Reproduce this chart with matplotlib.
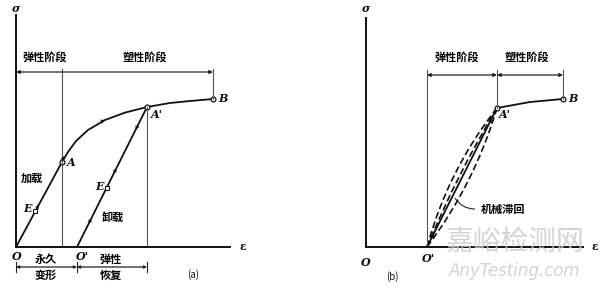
import matplotlib
matplotlib.use("Agg")
import matplotlib.pyplot as plt
from matplotlib.path import Path
from matplotlib.patches import PathPatch

plt.rcParams['font.family'] = ['Noto Sans CJK SC', 'DejaVu Sans']

# ---- data (strain / stress in arbitrary schematic units) ----
loading_eps = [0.0, 2.3, 2.6, 3.0, 3.6, 4.45, 5.45, 6.55, 7.7, 8.7, 9.85]
loading_sig = [0.0, 4.25, 4.75, 5.3, 5.85, 6.35, 6.72, 7.0, 7.2, 7.3, 7.4]
point_A = (2.3, 4.25)
point_A1 = (6.55, 7.0)
point_B = (9.85, 7.4)
point_O1 = (3.05, 0.0)
unload_eps = [6.55, 3.05]
unload_sig = [7.0, 0.0]

right_eps = [3.05, 6.55, 8.2, 9.85]
right_sig = [0.0, 6.95, 7.25, 7.4]
loop_ctrl_eps = [4.09, 4.53, 5.43]
loop_ctrl_sig = [3.84, 3.61, 3.16]

stage_labels = ['弹性阶段', '塑性阶段']
bottom_labels = [('永久', '变形'), ('弹性', '恢复')]

fig = plt.figure(figsize=(6.0, 2.92), dpi=100)
ax1 = fig.add_axes([16/600, 45/292, 214/600, 232/292])
ax2 = fig.add_axes([366/600, 45/292, 217/600, 229/292])
ax1.set_xlim(0, 10.7); ax1.set_ylim(0, 11.6)
ax2.set_xlim(0, 10.85); ax2.set_ylim(0, 11.45)

for ax in (ax1, ax2):
    for s in ('top', 'right'):
        ax.spines[s].set_visible(False)
    for s in ('left', 'bottom'):
        ax.spines[s].set_linewidth(1.4)
        ax.spines[s].set_color('#111111')
    ax.set_xticks([]); ax.set_yticks([])
    ax.patch.set_alpha(0)

cjk = dict(fontsize=8, fontweight='bold', color='#000000', ha='center', va='center')
lat = dict(fontsize=8, fontweight='bold', style='italic', family='DejaVu Serif',
           color='#111111', va='center', ha='center')
thin = dict(color='#555555', lw=0.8)


def arrowhead(ax, p, q, ms=7):
    ax.annotate('', xy=q, xytext=p,
                arrowprops=dict(arrowstyle='-|>', lw=0.1, color='#111111',
                                mutation_scale=ms, shrinkA=0, shrinkB=0),
                annotation_clip=False)


def bracket(ax, x0, x1, y, ms=5):
    ax.annotate('', xy=(x1, y), xytext=(x0, y),
                arrowprops=dict(arrowstyle='<|-|>', lw=0.9, color='#222222',
                                mutation_scale=ms, shrinkA=0, shrinkB=0),
                annotation_clip=False)

# ---------------- panel (a) ----------------
ax1.plot(loading_eps, loading_sig, color='#111111', lw=1.3, solid_capstyle='round',
         solid_joinstyle='round')
ax1.plot(unload_eps, unload_sig, color='#111111', lw=1.3)
ax1.plot(*point_A, 'o', ms=3.5, mfc='white', mec='#111111', mew=0.9)
ax1.plot(*point_A1, 'o', ms=3.5, mfc='white', mec='#111111', mew=0.9)
ax1.plot(*point_B, 'o', ms=3.5, mfc='white', mec='#111111', mew=0.9)

# guide lines
ax1.plot([point_A[0], point_A[0]], [0, 8.9], **thin)
ax1.plot([point_A1[0], point_A1[0]], [0, point_A1[1]], **thin)
ax1.plot([point_B[0], point_B[0]], [point_B[1], 8.9], **thin)
bracket(ax1, 0, point_B[0], 8.75)
ax1.text(1.45, 9.5, stage_labels[0], **cjk)
ax1.text(6.45, 9.5, stage_labels[1], **cjk)

# bottom bracket
for xe in (0, point_O1[0], point_A1[0]):
    ax1.plot([xe, xe], [-0.75, -1.25], color='#222222', lw=0.8, clip_on=False)
bracket(ax1, 0, point_O1[0], -1.0, ms=4)
bracket(ax1, point_O1[0], point_A1[0], -1.0, ms=4)
ax1.text(1.5, -0.6, bottom_labels[0][0], **cjk)
ax1.text(1.5, -1.42, bottom_labels[0][1], **cjk)
ax1.text(4.75, -0.6, bottom_labels[1][0], **cjk)
ax1.text(4.75, -1.42, bottom_labels[1][1], **cjk)
ax1.text(8.85, -1.4, '(a)', fontsize=7, color='#111111', ha='center', va='center')

# direction arrows
arrowhead(ax1, (1.0, 1.85), (1.15, 2.13))
arrowhead(ax1, (2.3, 4.3), (2.4, 4.55))
arrowhead(ax1, (4.1, 6.2), (4.45, 6.35))
arrowhead(ax1, (6.1, 6.1), (5.98, 5.86))
arrowhead(ax1, (5.0, 3.9), (4.88, 3.66))
arrowhead(ax1, (3.75, 1.4), (3.63, 1.16))

# point labels
ax1.text(2.75, 4.25, 'A', **lat)
ax1.text(7.05, 6.6, "A'", **lat)
ax1.text(10.35, 7.4, 'B', **lat)
ax1.text(0.05, -0.5, 'O', **lat)
ax1.text(3.3, -0.5, "O'", **lat)
ax1.text(0.6, 1.95, 'E', **lat)
ax1.plot(0.95, 1.8, 's', ms=3, mfc='white', mec='#111111', mew=0.8)
ax1.text(4.2, 3.05, 'E', **lat)
ax1.plot(4.55, 2.95, 's', ms=3, mfc='white', mec='#111111', mew=0.8)
ax1.text(0.78, 3.45, '加载', **cjk)
ax1.text(4.85, 1.5, '卸载', **cjk)
ax1.text(0.0, 11.95, 'σ', fontsize=8, fontweight='bold', style='italic', ha='center',
         va='center', color='#111111', family='DejaVu Serif')
ax1.text(11.35, 0.0, 'ε', fontsize=8, fontweight='bold', ha='center', va='center',
         color='#111111', family='DejaVu Serif')

# ---------------- panel (b) ----------------
ax2.plot(right_eps, right_sig, color='#111111', lw=1.3)
ax2.plot(right_eps[1], right_sig[1], 'o', ms=3.5, mfc='white', mec='#111111', mew=0.9)
ax2.plot(right_eps[3], right_sig[3], 'o', ms=3.5, mfc='white', mec='#111111', mew=0.9)
for ce, cs in zip(loop_ctrl_eps, loop_ctrl_sig):
    verts = [(right_eps[0], right_sig[0]), (ce, cs), (right_eps[1], right_sig[1])]
    path = Path(verts, [Path.MOVETO, Path.CURVE3, Path.CURVE3])
    ax2.add_patch(PathPatch(path, fill=False, lw=1.2, ls=(0, (4, 2)), color='#111111'))

arrowhead(ax2, (6.1, 6.05), (6.3, 6.45), ms=8)
arrowhead(ax2, (3.5, 0.9), (3.25, 0.4), ms=8)

ax2.plot([right_eps[0], right_eps[0]], [0, 8.85], **thin)
ax2.plot([right_eps[1], right_eps[1]], [right_sig[1], 8.85], **thin)
ax2.plot([right_eps[3], right_eps[3]], [right_sig[3], 8.85], **thin)
bracket(ax2, right_eps[0], right_eps[1], 8.6)
bracket(ax2, right_eps[1], right_eps[3], 8.6)
ax2.text(4.55, 9.5, stage_labels[0], **cjk)
ax2.text(8.05, 9.5, stage_labels[1], **cjk)

# leader for 机械滞回
lead = Path([(4.45, 2.45), (4.8, 1.9), (5.45, 1.9)], [Path.MOVETO, Path.CURVE3, Path.CURVE3])
ax2.add_patch(PathPatch(lead, fill=False, lw=0.8, color='#222222'))
ax2.text(6.85, 1.85, '机械滞回', **cjk)

ax2.text(6.95, 6.6, "A'", **lat)
ax2.text(10.35, 7.4, 'B', **lat)
ax2.text(0.0, -0.75, 'O', **lat)
ax2.text(3.1, -0.55, "O'", **lat)
ax2.text(1.3, -1.5, '(b)', fontsize=7, color='#111111', ha='center', va='center')
ax2.text(0.0, 11.95, 'σ', fontsize=8, fontweight='bold', style='italic', ha='center',
         va='center', color='#111111', family='DejaVu Serif')
ax2.text(11.45, 0.0, 'ε', fontsize=8, fontweight='bold', ha='center', va='center',
         color='#111111', family='DejaVu Serif')

# watermark
fig.text(515/600, 1 - 242/292, '嘉峪检测网', fontsize=20, color='#c8c8c8',
         ha='center', va='center', alpha=0.8)
fig.text(515/600, 1 - 271/292, 'AnyTesting.com', fontsize=12, style='italic',
         color='#c8c8c8', ha='center', va='center', family='DejaVu Sans', alpha=0.8)

fig.savefig('out.png', dpi=100, facecolor='white')
